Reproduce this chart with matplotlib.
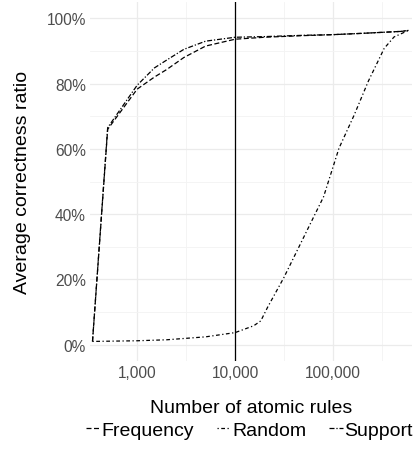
# Average correctness ratio vs number of atomic rules
from matplotlib import pyplot as plt
from matplotlib.ticker import FixedLocator, FuncFormatter, NullFormatter
import numpy as np

plt.rcParams['font.family'] = ['Liberation Sans', 'DejaVu Sans']

# data
freq_x = [350, 500, 1000, 1500, 2000, 3000, 5000, 10000, 20000, 50000, 100000, 200000, 500000, 590000]
freq_y = [1.0, 66.0, 78.3, 82.0, 84.3, 88.0, 91.5, 93.6, 94.2, 94.7, 95.0, 95.4, 96.0, 96.3]

supp_x = [350, 500, 1000, 1500, 2000, 3000, 5000, 10000, 20000, 50000, 100000, 200000, 500000, 590000]
supp_y = [1.0, 66.5, 79.5, 84.8, 87.2, 90.5, 93.0, 94.2, 94.4, 94.8, 95.0, 95.4, 96.0, 96.3]

rand_x = [350, 1000, 2000, 5000, 10000, 15500, 18300, 21500, 31400, 80000,
          115000, 164000, 229000, 333000, 420000, 590000]
rand_y = [1.0, 1.2, 1.5, 2.4, 3.7, 5.8, 7.3, 11.5, 20.5, 45.3,
          60.2, 70.3, 80.7, 90.8, 94.3, 96.3]

x_ticks = [1000, 10000, 100000]
x_minor = [10 ** 2.5, 10 ** 3.5, 10 ** 4.5, 10 ** 5.5]
y_ticks = [0, 20, 40, 60, 80, 100]
y_minor = [10, 30, 50, 70, 90]
cutoff = 10000

fig = plt.figure(figsize=(4.16, 4.52), dpi=100)
ax = fig.add_axes([90 / 416, 1 - 362 / 452, 322 / 416, 359 / 452])

ax.plot(freq_x, freq_y, color='black', lw=0.9, linestyle=(0, (4, 2)), label='Frequency')
ax.plot(rand_x, rand_y, color='black', lw=0.9, linestyle=(0, (1, 2, 3, 2)), label='Random')
ax.plot(supp_x, supp_y, color='black', lw=0.9, linestyle=(0, (4, 1.5, 1, 1.5)), label='Support')
ax.axvline(cutoff, color='black', lw=0.9)

ax.set_xscale('log')
ax.set_xlim(330, 640000)
ax.set_ylim(-5, 105)

ax.xaxis.set_major_locator(FixedLocator(x_ticks))
ax.xaxis.set_minor_locator(FixedLocator(x_minor))
ax.xaxis.set_major_formatter(FuncFormatter(lambda v, p: f'{int(v):,}'))
ax.xaxis.set_minor_formatter(NullFormatter())
ax.yaxis.set_major_locator(FixedLocator(y_ticks))
ax.yaxis.set_minor_locator(FixedLocator(y_minor))
ax.yaxis.set_major_formatter(FuncFormatter(lambda v, p: f'{int(v)}%'))

ax.grid(True, which='major', color='#EBEBEB', lw=0.9)
ax.grid(True, which='minor', color='#F3F3F3', lw=0.6)
ax.set_axisbelow(True)
for s in ax.spines.values():
    s.set_visible(False)
ax.tick_params(which='both', length=0, labelsize=11.2, labelcolor='#4D4D4D', pad=3)

ax.set_xlabel('Number of atomic rules', fontsize=14, labelpad=13.5)
ax.set_ylabel('Average correctness ratio', fontsize=14, labelpad=11)

fig.legend(loc='lower center', bbox_to_anchor=(0.6, -0.012), ncol=3, frameon=False,
           fontsize=14, handlelength=0.67, handletextpad=0.1, columnspacing=1.2)

plt.savefig('out.png', dpi=100)
